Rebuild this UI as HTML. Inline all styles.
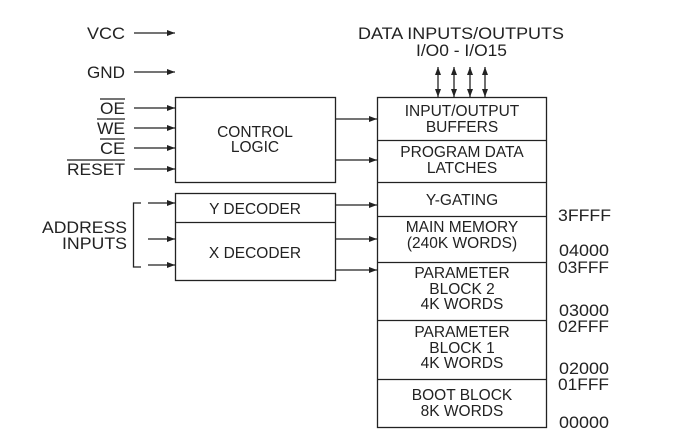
<!DOCTYPE html>
<html><head><style>
html,body{margin:0;padding:0;background:#fff;}
svg{display:block;}
text{font-family:"Liberation Sans",Arial,sans-serif;font-size:15.5px;fill:#222;}
.o{font-size:16.5px;}
</style></head><body>
<svg width="678" height="445" viewBox="0 0 678 445">
<defs>
<marker id="a" markerWidth="8" markerHeight="6" refX="8" refY="3" orient="auto" markerUnits="userSpaceOnUse">
<path d="M0,0 L8,3 L0,6 z" fill="#222"/></marker>
<marker id="b" markerWidth="8" markerHeight="6" refX="0" refY="3" orient="auto" markerUnits="userSpaceOnUse">
<path d="M8,0 L0,3 L8,6 z" fill="#222"/></marker>
</defs>
<g stroke="#222" stroke-width="1.3" fill="none">
<rect x="175.5" y="97.5" width="160" height="85"/>
<rect x="175.5" y="193.5" width="160" height="87"/>
<line x1="175" y1="222.5" x2="336" y2="222.5"/>
<rect x="377.5" y="97.5" width="169" height="330"/>
<line x1="377" y1="140.5" x2="547" y2="140.5"/>
<line x1="377" y1="182.5" x2="547" y2="182.5"/>
<line x1="377" y1="216.5" x2="547" y2="216.5"/>
<line x1="377" y1="262.5" x2="547" y2="262.5"/>
<line x1="377" y1="320.5" x2="547" y2="320.5"/>
<line x1="377" y1="379.5" x2="547" y2="379.5"/>
<line x1="134" y1="33" x2="175" y2="33" marker-end="url(#a)"/>
<line x1="134" y1="72" x2="175" y2="72" marker-end="url(#a)"/>
<line x1="134" y1="108" x2="175" y2="108" marker-end="url(#a)"/>
<line x1="134" y1="128" x2="175" y2="128" marker-end="url(#a)"/>
<line x1="134" y1="148" x2="175" y2="148" marker-end="url(#a)"/>
<line x1="134" y1="169" x2="175" y2="169" marker-end="url(#a)"/>
<polyline points="141,203 133.5,203 133.5,267 141,267"/>
<line x1="148" y1="203" x2="175" y2="203" marker-end="url(#a)"/>
<line x1="148" y1="239" x2="175" y2="239" marker-end="url(#a)"/>
<line x1="148" y1="265" x2="175" y2="265" marker-end="url(#a)"/>
<line x1="336" y1="119" x2="377" y2="119" marker-end="url(#a)"/>
<line x1="336" y1="160" x2="377" y2="160" marker-end="url(#a)"/>
<line x1="336" y1="205" x2="377" y2="205" marker-end="url(#a)"/>
<line x1="336" y1="239" x2="377" y2="239" marker-end="url(#a)"/>
<line x1="336" y1="270" x2="377" y2="270" marker-end="url(#a)"/>
<line x1="438" y1="67" x2="438" y2="97" marker-start="url(#b)" marker-end="url(#a)"/>
<line x1="454" y1="67" x2="454" y2="97" marker-start="url(#b)" marker-end="url(#a)"/>
<line x1="470" y1="67" x2="470" y2="97" marker-start="url(#b)" marker-end="url(#a)"/>
<line x1="485" y1="67" x2="485" y2="97" marker-start="url(#b)" marker-end="url(#a)"/>
<line x1="100" y1="99" x2="125" y2="99"/>
<line x1="97" y1="119" x2="125" y2="119"/>
<line x1="100" y1="139" x2="125" y2="139"/>
<line x1="67" y1="160" x2="125" y2="160"/>
</g>
<g class="o" lengthAdjust="spacingAndGlyphs">
<text class="o" x="87" y="39" textLength="38" lengthAdjust="spacingAndGlyphs">VCC</text>
<text class="o" x="87" y="78" textLength="38" lengthAdjust="spacingAndGlyphs">GND</text>
<text class="o" x="100" y="114" textLength="25" lengthAdjust="spacingAndGlyphs">OE</text>
<text class="o" x="97" y="134" textLength="28" lengthAdjust="spacingAndGlyphs">WE</text>
<text class="o" x="100" y="154" textLength="25" lengthAdjust="spacingAndGlyphs">CE</text>
<text class="o" x="67" y="175" textLength="58" lengthAdjust="spacingAndGlyphs">RESET</text>
<text class="o" x="42" y="233" textLength="85" lengthAdjust="spacingAndGlyphs">ADDRESS</text>
<text class="o" x="62" y="249" textLength="65" lengthAdjust="spacingAndGlyphs">INPUTS</text>
<text class="o" x="358" y="39" textLength="206" lengthAdjust="spacingAndGlyphs">DATA INPUTS/OUTPUTS</text>
<text class="o" x="416" y="56" textLength="91" lengthAdjust="spacingAndGlyphs">I/O0 - I/O15</text>
</g>
<g text-anchor="middle">
<text x="255" y="137">CONTROL</text>
<text x="255" y="152">LOGIC</text>
<text x="255" y="214">Y DECODER</text>
<text x="255" y="258">X DECODER</text>
<text x="462" y="116">INPUT/OUTPUT</text>
<text x="462" y="132">BUFFERS</text>
<text x="462" y="157">PROGRAM DATA</text>
<text x="462" y="173">LATCHES</text>
<text x="462" y="205">Y-GATING</text>
<text x="462" y="232">MAIN MEMORY</text>
<text x="462" y="248">(240K WORDS)</text>
<text x="462" y="278">PARAMETER</text>
<text x="462" y="294">BLOCK 2</text>
<text x="462" y="309">4K WORDS</text>
<text x="462" y="337">PARAMETER</text>
<text x="462" y="353">BLOCK 1</text>
<text x="462" y="368">4K WORDS</text>
<text x="462" y="400">BOOT BLOCK</text>
<text x="462" y="416">8K WORDS</text>
</g>
<g>
<text class="o" x="558" y="221" textLength="53" lengthAdjust="spacingAndGlyphs">3FFFF</text>
<text class="o" x="559" y="256" textLength="50" lengthAdjust="spacingAndGlyphs">04000</text>
<text class="o" x="558" y="273" textLength="51" lengthAdjust="spacingAndGlyphs">03FFF</text>
<text class="o" x="559" y="316" textLength="50" lengthAdjust="spacingAndGlyphs">03000</text>
<text class="o" x="558" y="332" textLength="51" lengthAdjust="spacingAndGlyphs">02FFF</text>
<text class="o" x="559" y="374" textLength="50" lengthAdjust="spacingAndGlyphs">02000</text>
<text class="o" x="558" y="390" textLength="51" lengthAdjust="spacingAndGlyphs">01FFF</text>
<text class="o" x="559" y="428" textLength="50" lengthAdjust="spacingAndGlyphs">00000</text>
</g>
</svg>
</body></html>
